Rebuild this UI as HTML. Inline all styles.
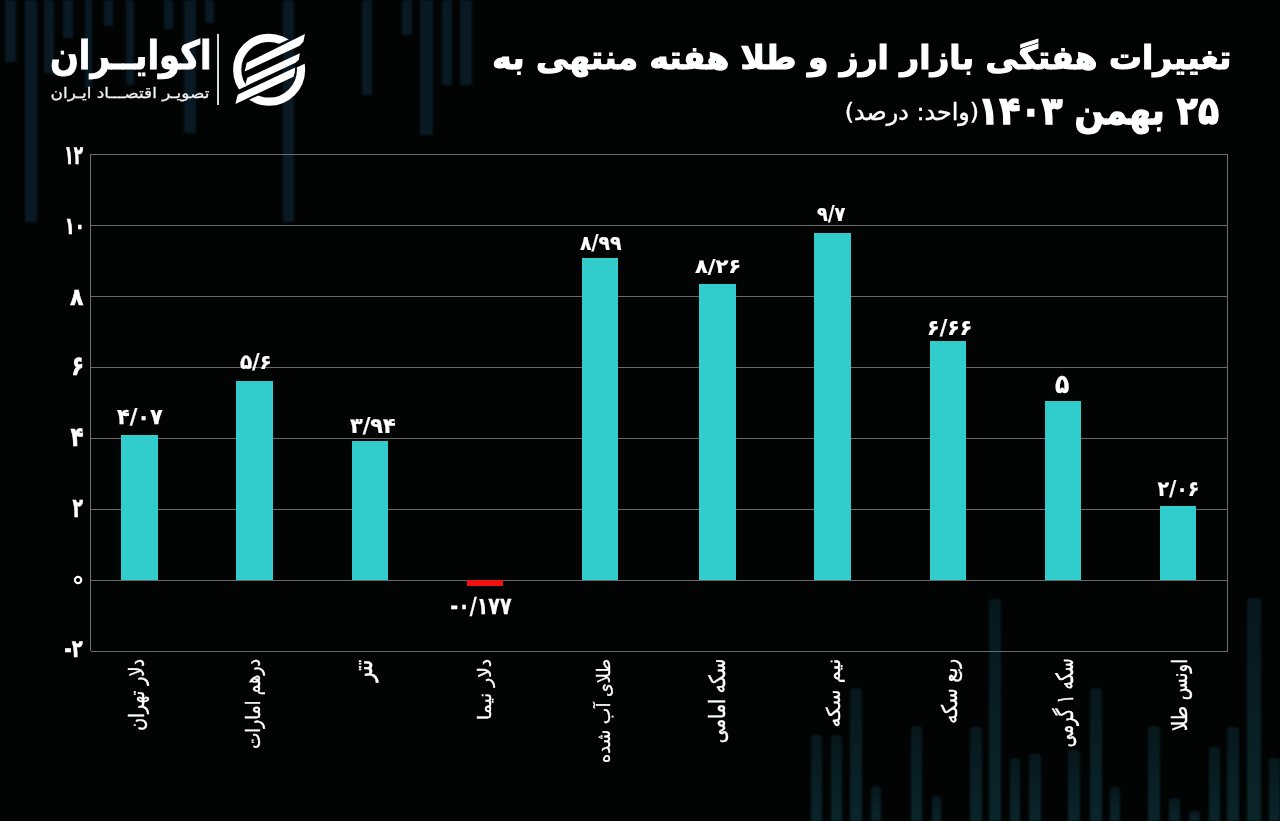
<!DOCTYPE html>
<html lang="fa">
<head>
<meta charset="utf-8">
<title>تغییرات هفتگی بازار ارز و طلا</title>
<style>
html,body{margin:0;padding:0;background:#020403;}
body{width:1280px;height:821px;overflow:hidden;position:relative;font-family:"DejaVu Sans","Liberation Sans",sans-serif;color:#fff;}
#page{position:absolute;left:0;top:0;width:1280px;height:821px;overflow:hidden;background:#020403;}
.abs{position:absolute;}
.bg{position:absolute;background:#091a24;filter:blur(0.8px);}
.bb{background:linear-gradient(#07181c,#0a252b);border-radius:3px 3px 0 0;}
.grid{position:absolute;left:91px;width:1137px;height:1px;background:#6a6a6a;}
.bar{position:absolute;background:#31cdcd;}
.f{position:absolute;left:0;top:0;width:1280px;height:821px;transform-origin:0 0;}
.t{position:absolute;white-space:nowrap;direction:rtl;line-height:1;}
.val{position:absolute;white-space:nowrap;font-weight:bold;font-size:22px;line-height:22px;direction:ltr;unicode-bidi:bidi-override;-webkit-text-stroke:0.25px #fff;}
.yl{position:absolute;white-space:nowrap;font-weight:bold;font-size:22px;line-height:22px;direction:ltr;unicode-bidi:bidi-override;-webkit-text-stroke:0.5px #fff;}
.cat{position:absolute;white-space:nowrap;direction:rtl;font-size:19px;line-height:22px;height:22px;-webkit-text-stroke:0.35px #fff;transform-origin:100% 0;transform:rotate(-90deg);text-align:right;}
</style>
</head>
<body>
<div id="page">

<div class="bg" style="left:5px;top:0px;width:11px;height:62px"></div>
<div class="bg" style="left:25px;top:0px;width:12px;height:222px"></div>
<div class="bg" style="left:44px;top:0px;width:10px;height:73px"></div>
<div class="bg" style="left:63px;top:0px;width:10px;height:38px"></div>
<div class="bg" style="left:85px;top:0px;width:7px;height:88px"></div>
<div class="bg" style="left:104px;top:0px;width:9px;height:26px"></div>
<div class="bg" style="left:126px;top:0px;width:8px;height:85px"></div>
<div class="bg" style="left:164px;top:0px;width:9px;height:29px"></div>
<div class="bg" style="left:205px;top:0px;width:9px;height:23px"></div>
<div class="bg" style="left:184px;top:0px;width:12px;height:133px"></div>
<div class="bg" style="left:283px;top:0px;width:11px;height:222px"></div>
<div class="bg" style="left:362px;top:0px;width:10px;height:95px"></div>
<div class="bg" style="left:402px;top:0px;width:10px;height:35px"></div>
<div class="bg" style="left:420px;top:0px;width:13px;height:135px"></div>
<div class="bg" style="left:442px;top:0px;width:10px;height:85px"></div>
<div class="bg" style="left:460px;top:0px;width:12px;height:85px"></div>
<div class="bg bb" style="left:811px;top:735px;width:11px;height:86px"></div>
<div class="bg bb" style="left:831px;top:735px;width:11px;height:86px"></div>
<div class="bg bb" style="left:850px;top:688px;width:12px;height:133px"></div>
<div class="bg bb" style="left:871px;top:786px;width:10px;height:35px"></div>
<div class="bg bb" style="left:911px;top:726px;width:11px;height:95px"></div>
<div class="bg bb" style="left:932px;top:796px;width:9px;height:25px"></div>
<div class="bg bb" style="left:970px;top:727px;width:12px;height:94px"></div>
<div class="bg bb" style="left:989px;top:599px;width:12px;height:222px"></div>
<div class="bg bb" style="left:1010px;top:758px;width:10px;height:63px"></div>
<div class="bg bb" style="left:1029px;top:754px;width:12px;height:67px"></div>
<div class="bg bb" style="left:1068px;top:750px;width:12px;height:71px"></div>
<div class="bg bb" style="left:1090px;top:688px;width:12px;height:133px"></div>
<div class="bg bb" style="left:1110px;top:787px;width:10px;height:34px"></div>
<div class="bg bb" style="left:1148px;top:726px;width:12px;height:95px"></div>
<div class="bg bb" style="left:1169px;top:798px;width:11px;height:23px"></div>
<div class="bg bb" style="left:1189px;top:811px;width:11px;height:10px"></div>
<div class="bg bb" style="left:1209px;top:747px;width:11px;height:74px"></div>
<div class="bg bb" style="left:1227px;top:727px;width:12px;height:94px"></div>
<div class="bg bb" style="left:1247px;top:598px;width:14px;height:223px"></div>
<div class="bg bb" style="left:1269px;top:758px;width:11px;height:63px"></div>
<div class="grid" style="top:154.0px"></div>
<div class="grid" style="top:224.8px"></div>
<div class="grid" style="top:295.7px"></div>
<div class="grid" style="top:366.6px"></div>
<div class="grid" style="top:437.5px"></div>
<div class="grid" style="top:508.5px"></div>
<div class="grid" style="top:579.5px"></div>
<div class="grid" style="top:650.5px"></div>
<div class="abs" style="left:90px;top:154px;width:1px;height:497px;background:#6f6f6f"></div>
<div class="abs" style="left:1227px;top:154px;width:1px;height:497px;background:#6f6f6f"></div>
<div class="bar" style="left:121.0px;top:435.0px;width:36.50px;height:145.00px"></div>
<div class="bar" style="left:236.25px;top:380.75px;width:36.50px;height:199.25px"></div>
<div class="bar" style="left:351.5px;top:440.5px;width:36.50px;height:139.50px"></div>
<div class="bar" style="left:582.0px;top:258.25px;width:36.25px;height:321.75px"></div>
<div class="bar" style="left:699.25px;top:284.0px;width:36.50px;height:296.00px"></div>
<div class="bar" style="left:814.25px;top:232.75px;width:36.50px;height:347.25px"></div>
<div class="bar" style="left:929.5px;top:341.0px;width:36.50px;height:239.00px"></div>
<div class="bar" style="left:1045.0px;top:400.8px;width:36.20px;height:179.20px"></div>
<div class="bar" style="left:1160.3px;top:506.1px;width:36.20px;height:73.90px"></div>
<div class="bar" style="left:466.7px;top:579.6px;width:36.6px;height:6.6px;background:#ee1212"></div>
<div class="f" id="v0" style="transform:matrix(0.9479,0,0,1.0000,5.65,0.00);"><div class="val" style="left:117.5px;top:406.0px">۴/۰۷</div></div>
<div class="f" id="v1" style="transform:matrix(0.9091,0,0,0.9306,21.82,24.33);"><div class="val" style="left:240.0px;top:351.8px">۵/۶</div></div>
<div class="f" id="v2" style="transform:matrix(0.9479,0,0,0.9722,18.23,11.11);"><div class="val" style="left:350.0px;top:415.5px">۳/۹۴</div></div>
<div class="f" id="v3" style="transform:matrix(0.8657,0,0,1.0722,60.16,-43.32);"><div class="val" style="left:450.6px;top:594.8px">-۰/۱۷۷</div></div>
<div class="f" id="v4" style="transform:matrix(0.8594,0,0,0.9306,81.56,16.32);"><div class="val" style="left:580.0px;top:233.0px">۸/۹۹</div></div>
<div class="f" id="v5" style="transform:matrix(0.9574,0,0,0.9028,29.57,24.93);"><div class="val" style="left:695.0px;top:256.8px">۸/۲۶</div></div>
<div class="f" id="v6" style="transform:matrix(0.8088,0,0,0.9444,155.88,10.94);"><div class="val" style="left:817.5px;top:203.5px">۹/۷</div></div>
<div class="f" id="v7" style="transform:matrix(0.9333,0,0,0.9833,60.07,5.62);"><div class="val" style="left:929.0px;top:317.3px">۶/۶۶</div></div>
<div class="f" id="v8" style="transform:matrix(1.0692,0,0,1.1857,-73.04,-71.80);"><div class="val" style="left:1055.0px;top:374.4px">۵</div></div>
<div class="f" id="v9" style="transform:matrix(0.8660,0,0,0.9611,155.39,18.71);"><div class="val" style="left:1157.3px;top:479.0px">۲/۰۶</div></div>
<div class="f" id="y0" style="transform:matrix(0.6979,0,0,1.1964,18.09,-31.27);"><div class="yl" style="left:66.2px;top:145.0px;">۱۲</div></div>
<div class="f" id="y1" style="transform:matrix(0.7500,0,0,1.0714,14.50,-18.36);"><div class="yl" style="left:67.0px;top:217.5px;">۱۰</div></div>
<div class="f" id="y2" style="transform:matrix(1.0000,0,0,1.0714,0.00,-22.86);"><div class="yl" style="left:70.0px;top:288.0px;">۸</div></div>
<div class="f" id="y3" style="transform:matrix(0.9273,0,0,1.2143,4.08,-78.84);"><div class="yl" style="left:72.7px;top:356.3px;">۶</div></div>
<div class="f" id="y4" style="transform:matrix(0.9769,0,0,1.2214,1.82,-97.54);"><div class="yl" style="left:70.2px;top:426.9px;">۴</div></div>
<div class="f" id="y5" style="transform:matrix(0.7846,0,0,1.2143,15.42,-109.97);"><div class="yl" style="left:72.7px;top:497.6px;">۲</div></div>
<div class="f clip" style="clip-path:circle(4.2px at 78.1px 580px)"><div class="f" id="y6" style="transform:matrix(3.3000,0,0,3.2500,-179.30,-1318.00);"><div class="yl" style="left:71.5px;top:571.5px;-webkit-text-stroke:0;">۰</div></div></div>
<div class="f" id="y7" style="transform:matrix(0.8182,0,0,1.1250,11.00,-82.12);"><div class="yl" style="left:65.0px;top:639.2px;">-۲</div></div>
<div class="abs" style="left:76.4px;top:578.3px;width:3.4px;height:3.4px;border-radius:50%;background:#020403"></div>
<div class="f" id="c0" style="transform:matrix(1.0895,0,0,0.9197,-15.11,51.85);"><div class="cat" style="right:1151.3px;top:659.8px">دلار تهران</div></div>
<div class="f" id="c1" style="transform:matrix(1.0579,0,0,0.9000,-18.42,64.90);"><div class="cat" style="right:1035.0px;top:659.8px">درهم امارات</div></div>
<div class="f" id="c2" style="transform:matrix(1.3714,0,0,1.0217,-146.63,-14.55);"><div class="cat" style="right:919.2px;top:659.8px">تتر</div></div>
<div class="f" id="c3" style="transform:matrix(0.9474,0,0,0.9825,21.32,10.37);"><div class="cat" style="right:803.0px;top:659.8px">دلار نیما</div></div>
<div class="f" id="c4" style="transform:matrix(0.9659,0,0,0.9252,20.68,48.23);"><div class="cat" style="right:687.5px;top:659.8px">طلای آب شده</div></div>
<div class="f" id="c5" style="transform:matrix(1.1806,0,0,0.9398,-131.88,38.61);"><div class="cat" style="right:572.5px;top:659.8px">سکه امامی</div></div>
<div class="f" id="c6" style="transform:matrix(1.0000,0,0,1.0344,-3.00,-23.92);"><div class="cat" style="right:455.0px;top:659.8px">نیم سکه</div></div>
<div class="f" id="c7" style="transform:matrix(1.1250,0,0,0.9646,-120.88,22.19);"><div class="cat" style="right:340.0px;top:659.8px">ربع سکه</div></div>
<div class="f" id="c8" style="transform:matrix(1.2409,0,0,0.8524,-253.74,96.60);"><div class="cat" style="right:228.3px;top:659.2px">سکه ۱ گرمی</div></div>
<div class="f" id="c9" style="transform:matrix(1.1105,0,0,0.9427,-132.86,36.70);"><div class="cat" style="right:109.1px;top:659.8px">اونس طلا</div></div>
<div class="f" id="t1" style="transform:matrix(0.9660,0,0,0.9634,43.24,12.49);"><div class="t" style="right:50px;top:30px;font-size:34px;font-weight:bold;-webkit-text-stroke:1.2px #fff;">تغییرات هفتگی بازار ارز و طلا هفته منتهی به</div></div>
<div class="f" id="t2" style="transform:matrix(0.9610,0,0,1.0735,47.57,-5.26);"><div class="t" style="right:61px;top:90px;font-size:36px;font-weight:bold;-webkit-text-stroke:1.2px #fff;">۲۵ بهمن ۱۴۰۳</div></div>
<div class="f" id="t2s" style="transform:matrix(1.0349,0,0,1.0250,-32.05,-2.32);"><div class="t" style="right:303px;top:100px;font-size:23px;-webkit-text-stroke:0.4px #fff;">(واحد: درصد)</div></div>
<div class="f" id="lg1" style="transform:matrix(0.8473,0,0,0.9881,6.69,-0.14);"><div class="t" style="left:51px;top:36px;font-size:40px;font-weight:bold;-webkit-text-stroke:0.9px #fff;">اکوایــران</div></div>
<div class="f" id="lg2" style="transform:matrix(1.0577,0,0,0.9353,-4.46,7.50);"><div class="t" style="left:52px;top:84px;font-size:16px;color:#f0f0f0;-webkit-text-stroke:0.3px #f0f0f0;">تصویـر اقتصـــاد ایـران</div></div>
<div class="abs" style="left:217.4px;top:34px;width:2px;height:71px;background:#d8d8d8"></div>
<svg class="abs" id="emblem" style="left:228px;top:28px" width="84" height="84" viewBox="0 0 821 821">
<defs>
<clipPath id="ca"><polygon points="0,0 821,0 821,3 185,303 185,565 0,652"/></clipPath>
<clipPath id="cb"><polygon points="821,316 640,401 640,498 0,798 0,821 821,821"/></clipPath>
</defs>
<circle cx="402" cy="408" r="312" fill="none" stroke="#fff" stroke-width="80" clip-path="url(#ca)"/>
<circle cx="402" cy="408" r="312" fill="none" stroke="#fff" stroke-width="80" clip-path="url(#cb)"/>
<polygon fill="#fff" points="163,425 183,340 752,58 737,134 700,173"/>
<polygon fill="#fff" points="163,573 188,487 702,246 692,310 660,340"/>
<polygon fill="#fff" points="73,742 88,676 98,650 657,386 652,440 640,476"/>
</svg>
</div>
</body>
</html>
